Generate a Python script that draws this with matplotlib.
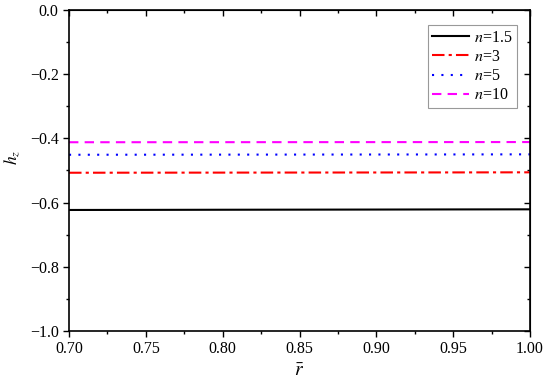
import matplotlib
matplotlib.use("Agg")
import matplotlib.pyplot as plt
from matplotlib.ticker import MultipleLocator

plt.rcParams['font.family'] = ['Liberation Serif', 'DejaVu Serif']
plt.rcParams['mathtext.fontset'] = 'stix'

r = [0.70, 0.75, 0.80, 0.85, 0.90, 0.95, 1.00]
h_n15 = [-0.623, -0.6227, -0.6223, -0.622, -0.6217, -0.6213, -0.621]
h_n3 = [-0.507, -0.5068, -0.5066, -0.5064, -0.5062, -0.506, -0.5057]
h_n5 = [-0.451, -0.4508, -0.4506, -0.4504, -0.4502, -0.450, -0.4497]
h_n10 = [-0.412, -0.4119, -0.4118, -0.4117, -0.4116, -0.4115, -0.4114]
labels = ['$n$=1.5', '$n$=3', '$n$=5', '$n$=10']

fig = plt.figure(figsize=(5.5, 3.83), dpi=100)
ax = fig.add_axes([0.1255, 0.1358, 0.8381, 0.8381])

ax.plot(r, h_n15, color='black', lw=1.5, ls='-', label=labels[0])
ax.plot(r, h_n3, color='red', lw=1.5, ls=(0, (6, 2, 1.5, 2)), label=labels[1])
ax.plot(r, h_n5, color='blue', lw=1.5, ls=(0, (1, 3.5)), label=labels[2])
ax.plot(r, h_n10, color='magenta', lw=1.5, ls=(0, (4.5, 3)), label=labels[3])

ax.set_xlim(0.70, 1.00)
ax.set_ylim(-1.0, 0.0)
ax.xaxis.set_major_locator(MultipleLocator(0.05))
ax.xaxis.set_minor_locator(MultipleLocator(0.025))
ax.yaxis.set_major_locator(MultipleLocator(0.2))
ax.yaxis.set_minor_locator(MultipleLocator(0.1))
ax.set_xticks([0.70, 0.75, 0.80, 0.85, 0.90, 0.95, 1.00])
ax.set_xticklabels(['0.70', '0.75', '0.80', '0.85', '0.90', '0.95', '1.00'])
ax.set_yticks([0.0, -0.2, -0.4, -0.6, -0.8, -1.0])
ax.set_yticklabels(['0.0', '\u22120.2', '\u22120.4', '\u22120.6', '\u22120.8', '\u22121.0'])

ax.tick_params(which='both', direction='out', labelsize=11.5, width=1)
ax.tick_params(which='major', length=4)
ax.tick_params(which='minor', length=2.5)
# mirrored inward ticks on top/right
secx = ax.secondary_xaxis('top')
secx.xaxis.set_major_locator(MultipleLocator(0.05))
secx.xaxis.set_minor_locator(MultipleLocator(0.025))
secx.tick_params(which='both', direction='in', labeltop=False, width=1)
secx.tick_params(which='major', length=4)
secx.tick_params(which='minor', length=2.5)
secy = ax.secondary_yaxis('right')
secy.yaxis.set_major_locator(MultipleLocator(0.2))
secy.yaxis.set_minor_locator(MultipleLocator(0.1))
secy.tick_params(which='both', direction='in', labelright=False, width=1)
secy.tick_params(which='major', length=4)
secy.tick_params(which='minor', length=2.5)
for s in ax.spines.values():
    s.set_linewidth(1.2)

ax.set_xlabel(r'$\bar{r}$', fontsize=14, labelpad=4)
ax.set_ylabel(r'$\bar{h}_z$', fontsize=12.5)
ax.yaxis.set_label_coords(-0.103, 0.54)

leg = ax.legend(loc='upper right', bbox_to_anchor=(0.972, 0.953), fontsize=11.5,
                frameon=True, fancybox=False, edgecolor='gray',
                handlelength=2.3, handletextpad=0.3, labelspacing=0.2,
                borderpad=0.3, borderaxespad=0)
leg.get_frame().set_linewidth(0.8)

fig.savefig('out.png', dpi=100)
